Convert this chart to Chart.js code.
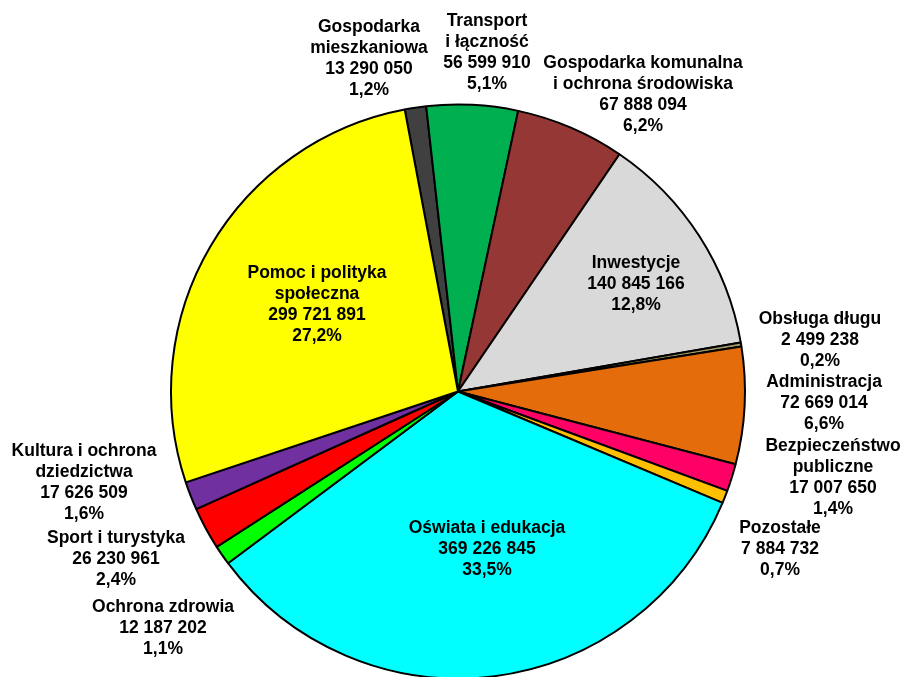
<!DOCTYPE html>
<html>
<head>
<meta charset="utf-8">
<script src="https://cdn.jsdelivr.net/npm/chart.js@4.4.1/dist/chart.umd.min.js"></script>
<style>
  html, body { margin: 0; padding: 0; background: #ffffff; overflow: hidden; }
  #wrap { width: 904px; height: 690px; }
</style>
</head>
<body>
<div id="wrap"><canvas id="c" width="904" height="690"></canvas></div>
<script>
// ---- data ----
const categories = [
  ["Gospodarka", "mieszkaniowa"],
  ["Transport", "i łączność"],
  ["Gospodarka komunalna", "i ochrona środowiska"],
  ["Inwestycje"],
  ["Obsługa długu"],
  ["Administracja"],
  ["Bezpieczeństwo", "publiczne"],
  ["Pozostałe"],
  ["Oświata i edukacja"],
  ["Ochrona zdrowia"],
  ["Sport i turystyka"],
  ["Kultura i ochrona", "dziedzictwa"],
  ["Pomoc i polityka", "społeczna"]
];
const values = [
  13290050, 56599910, 67888094, 140845166, 2499238, 72669014,
  17007650, 7884732, 369226845, 12187202, 26230961, 17626509, 299721891
];
const percentLabels = [
  "1,2%", "5,1%", "6,2%", "12,8%", "0,2%", "6,6%",
  "1,4%", "0,7%", "33,5%", "1,1%", "2,4%", "1,6%", "27,2%"
];

// ---- styles / layout ----
const sliceColors = [
  "#404040", "#00B050", "#953735", "#D9D9D9", "#A39A6A", "#E46C0A",
  "#FF0066", "#FFC000", "#00FFFF", "#00FF00", "#FF0000", "#7030A0", "#FFFF00"
];
// label block: centre x, baseline of first line
const labelPos = [
  [369, 32], [487, 26], [643, 68], [636, 268], [820, 324], [824, 387],
  [833, 451], [780, 533], [487, 533], [163, 612], [116, 543], [84, 456], [317, 278]
];
const lineHeight = 21;

function fmt(n) {
  return String(n).replace(/\B(?=(\d{3})+(?!\d))/g, " ");
}

const labelPlugin = {
  id: "sliceLabels",
  afterDraw(chart) {
    const ctx = chart.ctx;
    ctx.save();
    ctx.font = 'bold 17.5px "Liberation Sans", Arial, sans-serif';
    ctx.fillStyle = "#000";
    ctx.textAlign = "center";
    ctx.textBaseline = "alphabetic";
    categories.forEach((name, i) => {
      const lines = name.concat([fmt(values[i]), percentLabels[i]]);
      const [x, y] = labelPos[i];
      lines.forEach((t, k) => ctx.fillText(t, x, y + k * lineHeight));
    });
    ctx.restore();
  }
};

new Chart(document.getElementById("c"), {
  type: "pie",
  data: {
    labels: categories.map(c => c.join(" ")),
    datasets: [{
      data: values,
      backgroundColor: sliceColors,
      borderColor: "#000000",
      borderWidth: 2
    }]
  },
  options: {
    responsive: false,
    animation: false,
    events: [],
    rotation: -10.7,
    layout: { padding: { left: 170, right: 158, top: 103, bottom: 10 } },
    plugins: {
      legend: { display: false },
      tooltip: { enabled: false }
    }
  },
  plugins: [labelPlugin]
});
</script>
</body>
</html>
